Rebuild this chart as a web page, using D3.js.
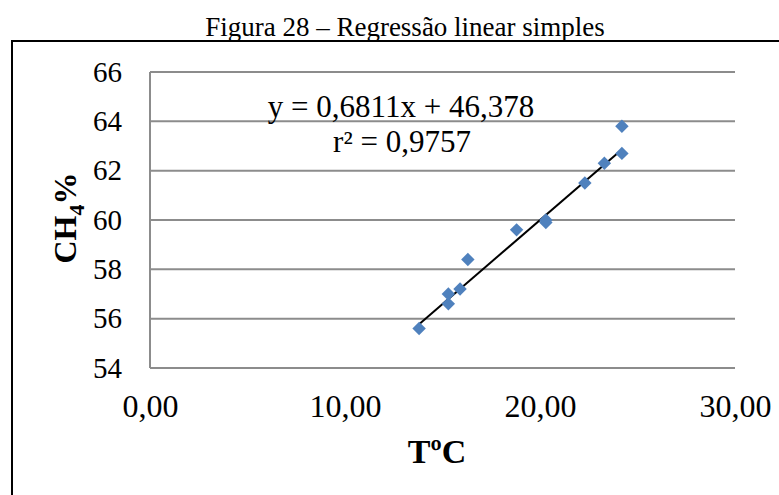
<!DOCTYPE html>
<html>
<head>
<meta charset="utf-8">
<script src="https://cdn.jsdelivr.net/npm/d3@7"></script>
<style>
  body { margin: 0; background: #fff; }
  svg text { font-family: "Liberation Serif", "Times New Roman", serif; }
</style>
</head>
<body>
<div class="chart"></div>
<script>
// temperature (ºC) and methane share (%)
const tempC = [13.8, 15.3, 15.3, 15.9, 16.3, 18.8, 20.3, 20.3, 22.3, 23.3, 24.2, 24.2];
const ch4 = [55.6, 56.6, 57.0, 57.2, 58.4, 59.6, 60.0, 59.9, 61.5, 62.3, 62.7, 63.8];
const xTicks = [0, 10, 20, 30];
const yTicks = [54, 56, 58, 60, 62, 64, 66];
const slope = 0.6811;
const intercept = 46.378;

const width = 779, height = 495;
const plot = { left: 150, right: 735, top: 72, bottom: 368 };

const svg = d3.select(".chart").append("svg")
    .attr("width", width)
    .attr("height", height);

// outer frame (runs off the right and bottom edges)
svg.append("rect")
    .attr("x", 12).attr("y", 41)
    .attr("width", 800).attr("height", 500)
    .attr("fill", "none")
    .attr("stroke", "#000")
    .attr("stroke-width", 2);

svg.append("text")
    .attr("x", 405).attr("y", 36)
    .attr("text-anchor", "middle")
    .attr("font-size", 27)
    .text("Figura 28 – Regressão linear simples");

const x = d3.scaleLinear().domain([0, 30]).range([plot.left, plot.right]);
const y = d3.scaleLinear().domain([54, 66]).range([plot.bottom, plot.top]);

// horizontal grid
svg.append("g")
    .selectAll("line")
    .data(yTicks)
    .join("line")
    .attr("x1", plot.left).attr("x2", plot.right)
    .attr("y1", d => y(d)).attr("y2", d => y(d))
    .attr("stroke", "#8c8c8c")
    .attr("stroke-width", 2);

svg.append("line")
    .attr("x1", plot.left).attr("x2", plot.left)
    .attr("y1", plot.top).attr("y2", plot.bottom)
    .attr("stroke", "#8c8c8c")
    .attr("stroke-width", 2);

const fmtX = d => d3.format(".2f")(d).replace(".", ",");

const xAxis = svg.append("g")
    .attr("transform", `translate(0,${plot.bottom})`)
    .call(d3.axisBottom(x).tickValues(xTicks).tickFormat(fmtX).tickSize(0).tickPadding(26));
xAxis.select(".domain").remove();
xAxis.selectAll("text")
    .attr("font-size", 32)
    .attr("font-family", "Liberation Serif")
    .attr("fill", "#000");

const yAxis = svg.append("g")
    .attr("transform", `translate(${plot.left},0)`)
    .call(d3.axisLeft(y).tickValues(yTicks).tickSize(0).tickPadding(28));
yAxis.select(".domain").remove();
yAxis.selectAll("text")
    .attr("font-size", 29)
    .attr("font-family", "Liberation Serif")
    .attr("fill", "#000");

// regression line over the data range
const [xMin, xMax] = d3.extent(tempC);
svg.append("line")
    .attr("x1", x(xMin)).attr("y1", y(slope * xMin + intercept))
    .attr("x2", x(xMax)).attr("y2", y(slope * xMax + intercept))
    .attr("stroke", "#000")
    .attr("stroke-width", 2);

const diamond = d3.symbol().type(d3.symbolSquare).size(90);
svg.append("g")
    .selectAll("path")
    .data(tempC.map((t, i) => [t, ch4[i]]))
    .join("path")
    .attr("d", diamond)
    .attr("transform", d => `translate(${x(d[0])},${y(d[1])}) rotate(45)`)
    .attr("fill", "#4f81bd");

svg.append("text")
    .attr("x", 401).attr("y", 117)
    .attr("text-anchor", "middle")
    .attr("font-size", 31)
    .text("y = 0,6811x + 46,378");
svg.append("text")
    .attr("x", 402).attr("y", 152)
    .attr("text-anchor", "middle")
    .attr("font-size", 31)
    .text("r² = 0,9757");

svg.append("text")
    .attr("x", 437).attr("y", 463)
    .attr("text-anchor", "middle")
    .attr("font-size", 34)
    .attr("font-weight", "bold")
    .text("TºC");

const yTitle = svg.append("text")
    .attr("transform", "translate(76,218) rotate(-90)")
    .attr("text-anchor", "middle")
    .attr("font-size", 32)
    .attr("font-weight", "bold");
yTitle.append("tspan").text("CH");
yTitle.append("tspan").attr("dy", 8).attr("font-size", 22).text("4");
yTitle.append("tspan").attr("dy", -8).text("%");
</script>
</body>
</html>
